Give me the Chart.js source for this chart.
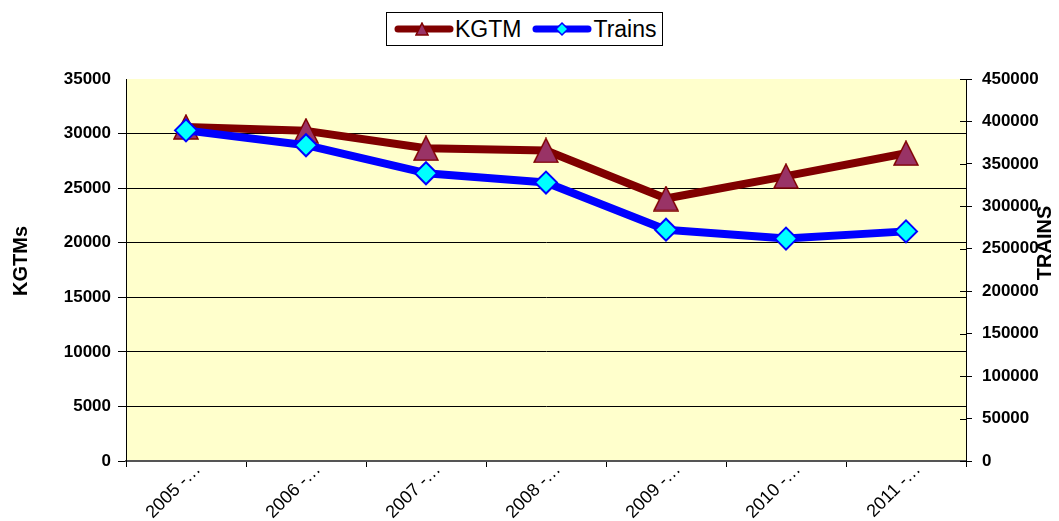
<!DOCTYPE html>
<html>
<head>
<meta charset="utf-8">
<script src="https://cdn.jsdelivr.net/npm/chart.js@4"></script>
<style>
  body { margin: 0; background: #fff; font-family: 'Liberation Sans', Arial, sans-serif; }
  #wrap { position: relative; width: 1059px; height: 521px; }
  .legend {
    position: absolute; left: 386px; top: 12px; width: 269px; height: 32px;
    border: 1px solid #000; background: #fff; display: flex; align-items: center;
    padding-left: 6px; box-sizing: content-box; font-size: 23px; color: #000;
    white-space: nowrap;
  }
  .legend canvas { display: block; flex: none; }
  .legend span { margin-right: 10px; }
</style>
</head>
<body>
<div id="wrap">
  <canvas id="myChart"></canvas>
  <div class="legend">
    <canvas id="swKgtm" width="62" height="30"></canvas><span>KGTM</span>
    <canvas id="swTrains" width="62" height="30"></canvas><span>Trains</span>
  </div>
</div>
<script>
var years = ['2005 -…', '2006 -…', '2007 -…', '2008 -…', '2009 -…', '2010 -…', '2011 -…'];
var kgtm = [30600, 30250, 28650, 28450, 24050, 26100, 28200];
var trains = [389500, 372000, 339000, 328000, 272500, 262000, 270500];
var kgtmTicks = { min: 0, max: 35000, step: 5000 };
var trainTicks = { min: 0, max: 450000, step: 50000 };

// marcador triângulo (isósceles, como no Excel)
function makeTriangle(size) {
  var c = document.createElement('canvas');
  c.width = size; c.height = size;
  var g = c.getContext('2d');
  g.beginPath();
  g.moveTo(size / 2, 1);
  g.lineTo(size - 1, size - 1);
  g.lineTo(1, size - 1);
  g.closePath();
  g.fillStyle = '#993366';
  g.fill();
  g.lineWidth = 1.5;
  g.strokeStyle = '#800000';
  g.stroke();
  return c;
}

function drawSwatch(id, color, marker) {
  var g = document.getElementById(id).getContext('2d');
  g.strokeStyle = color;
  g.lineWidth = 7;
  g.lineCap = 'round';
  g.beginPath();
  g.moveTo(5, 15);
  g.lineTo(57, 15);
  g.stroke();
  marker(g);
}

drawSwatch('swKgtm', '#800000', function(g) {
  g.drawImage(makeTriangle(14), 22, 8);
});
drawSwatch('swTrains', '#0000ff', function(g) {
  g.beginPath();
  g.moveTo(31, 9); g.lineTo(37, 15); g.lineTo(31, 21); g.lineTo(25, 15);
  g.closePath();
  g.fillStyle = '#00ffff';
  g.fill();
  g.lineWidth = 1.5;
  g.strokeStyle = '#0000ff';
  g.stroke();
});

// fundo amarelo da área do gráfico + títulos dos eixos
var plotBg = {
  id: 'plotBg',
  beforeDraw: function(chart) {
    var a = chart.chartArea, ctx = chart.ctx;
    ctx.save();
    ctx.fillStyle = '#ffffcc';
    ctx.fillRect(a.left, a.top, a.right - a.left, a.bottom - a.top);
    ctx.restore();
  },
  afterDraw: function(chart) {
    var ctx = chart.ctx, a = chart.chartArea;
    // marcas do eixo direito cruzam a linha do eixo
    var s = chart.scales.y1;
    ctx.save();
    ctx.strokeStyle = '#000';
    ctx.lineWidth = 1;
    s.ticks.forEach(function(t) {
      var py = Math.round(s.getPixelForValue(t.value)) + 0.5;
      ctx.beginPath();
      ctx.moveTo(a.right - 6, py);
      ctx.lineTo(a.right, py);
      ctx.stroke();
    });
    ctx.restore();

    var titles = [['KGTMs', 21, 261], ['TRAINS', 1045, 243]];
    titles.forEach(function(t) {
      ctx.save();
      ctx.fillStyle = '#000';
      ctx.font = 'bold 20px "Liberation Sans", Arial, sans-serif';
      ctx.textAlign = 'center';
      ctx.textBaseline = 'middle';
      ctx.translate(t[1], t[2]);
      ctx.rotate(-Math.PI / 2);
      ctx.fillText(t[0], 0, 0);
      ctx.restore();
    });
  }
};

var tickFont = { family: '"Liberation Sans", Arial, sans-serif', size: 17, weight: 'bold' };
function plain(v) { return String(v); }

var ctx = document.getElementById('myChart').getContext('2d');
var chart = new Chart(ctx, {
  type: 'line',
  data: {
    labels: years,
    datasets: [
      {
        label: 'KGTM',
        data: kgtm,
        yAxisID: 'y',
        order: 2,
        borderColor: '#800000',
        borderWidth: 8,
        borderJoinStyle: 'round',
        borderCapStyle: 'round',
        pointStyle: makeTriangle(26),
        pointRadius: 13,
        tension: 0
      },
      {
        label: 'Trains',
        data: trains,
        yAxisID: 'y1',
        order: 1,
        borderColor: '#0000ff',
        borderWidth: 8,
        borderJoinStyle: 'round',
        borderCapStyle: 'round',
        pointStyle: 'rectRot',
        pointRadius: 11,
        pointBackgroundColor: '#00ffff',
        pointBorderColor: '#0000ff',
        pointBorderWidth: 2,
        tension: 0
      }
    ]
  },
  options: {
    responsive: true,
    maintainAspectRatio: false,
    animation: false,
    layout: { padding: { top: 79, left: 0, right: 0, bottom: 0 } },
    plugins: {
      legend: { display: false },
      tooltip: { enabled: false }
    },
    scales: {
      x: {
        offset: true,
        grid: { offset: true, drawOnChartArea: false, tickLength: 6, color: '#000' },
        border: { color: '#555', width: 2 },
        ticks: {
          color: '#000',
          font: { family: '"Liberation Sans", Arial, sans-serif', size: 18 },
          minRotation: 45, maxRotation: 45, autoSkip: false,
          padding: -8, labelOffset: 12
        },
        afterFit: function(s) { s.height = 60; }
      },
      y: {
        position: 'left',
        min: kgtmTicks.min, max: kgtmTicks.max,
        ticks: { stepSize: kgtmTicks.step, color: '#000', font: tickFont, padding: 7, callback: plain },
        grid: {
          tickLength: 8,
          color: function(c) { return c.tick && c.tick.value === kgtmTicks.max ? 'rgba(0,0,0,0)' : '#000'; }
        },
        border: { color: '#000', width: 1 },
        afterFit: function(s) { s.width = 126; }
      },
      y1: {
        position: 'right',
        min: trainTicks.min, max: trainTicks.max,
        ticks: { stepSize: trainTicks.step, color: '#000', font: tickFont, padding: 10, callback: plain },
        grid: { drawOnChartArea: false, tickLength: 6, color: '#000' },
        border: { color: '#000', width: 1 },
        afterFit: function(s) { s.width = 93; }
      }
    }
  },
  plugins: [plotBg]
});
</script>
</body>
</html>
